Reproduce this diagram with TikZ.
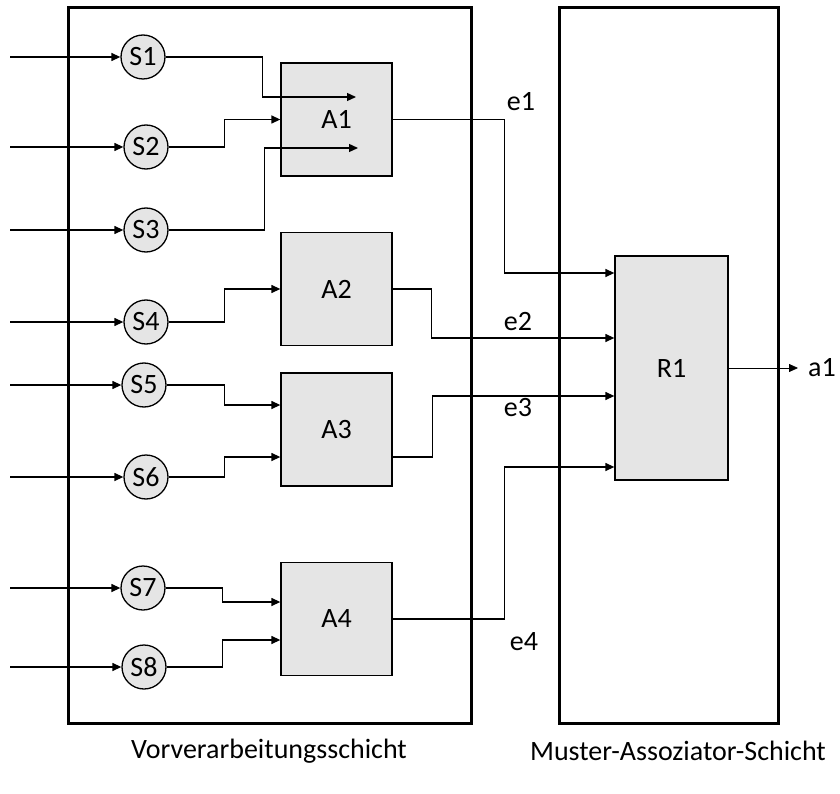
\documentclass[tikz,border=0pt]{standalone}
\usepackage{fontspec}
\setmainfont{Carlito}
\usetikzlibrary{arrows.meta}

\tikzset{
  sensor/.style={circle, draw, line width=1.3pt, fill=black!10, minimum size=44pt, inner sep=0pt},
  assoc/.style={rectangle, draw, line width=1.3pt, fill=black!10, minimum width=111pt, minimum height=113pt},
  layerbox/.style={line width=3pt},
  lbl/.style={font=\fontsize{28}{33}\selectfont}
}

\begin{document}
\begin{tikzpicture}[x=1pt, y=-1pt, >={Triangle[length=9pt,width=8pt]}, line width=1.3pt, lbl]
    \useasboundingbox (0,0) rectangle (840,794);

    \draw[layerbox] (68,8) rectangle (471,723);
    \draw[layerbox] (559,8) rectangle (778,723);

    \foreach \i/\x/\y in {1/143/57, 2/146/147, 3/146/230, 4/146/322, 5/144/385, 6/146/477, 7/143/588, 8/144/667} {
        \node[sensor] (S\i) at (\x,\y) {S\i};
        \coordinate (in\i) at (10,\y);
        \draw[->] (in\i) -- (S\i);
    }

    \node[assoc] (A1) at (336.5,119.5) {A1};
    \node[assoc] (A2) at (336.5,289) {A2};
    \node[assoc] (A3) at (336.5,429.5) {A3};
    \node[assoc] (A4) at (336.5,619) {A4};
    \node[assoc, minimum width=113pt, minimum height=224pt] (R1) at (671.5,368) {R1};

    \coordinate (A1a) at (356,97);
    \coordinate (A1b) at (358,148);
    \coordinate (A3a) at (A3.west |- 0,405);
    \coordinate (A3b) at (A3.west |- 0,457);
    \coordinate (A4a) at (A4.west |- 0,602);
    \coordinate (A4b) at (A4.west |- 0,640);
    \coordinate (R1a) at (R1.west |- 0,273);
    \coordinate (R1b) at (R1.west |- 0,338);
    \coordinate (R1c) at (R1.west |- 0,396);
    \coordinate (R1d) at (R1.west |- 0,467);
    \coordinate (out) at (798,368);

    \draw[->] (S1.east) -- ++(97,0) |- (A1a);
    \draw[->] (S2.east) -- ++(56,0) |- (A1.west);
    \draw[->] (S3.east) -- ++(96,0) |- (A1b);
    \draw[->] (S4.east) -- ++(56,0) |- (A2.west);
    \draw[->] (S5.east) -- ++(58,0) |- (A3a);
    \draw[->] (S6.east) -- ++(56,0) |- (A3b);
    \draw[->] (S7.east) -- ++(57,0) |- (A4a);
    \draw[->] (S8.east) -- ++(56,0) |- (A4b);

    \draw[->] (A1.east) -- ++(112,0) |- (R1a);
    \draw[->] (A2.east) -- ++(39,0) |- (R1b);
    \draw[->] ([yshift=-27.5pt]A3.east) -- ++(40,0) |- (R1c);
    \draw[->] (A4.east) -- ++(112,0) |- (R1d);
    \draw[->, line width=0.8pt] (R1.east) -- (out);

    \node (a1) at (822,368) {a1};
    \node (e1) at (521,102) {e1};
    \node (e2) at (518,322) {e2};
    \node (e3) at (518,408) {e3};
    \node (e4) at (524,642) {e4};

    \node (vor) at (269,751) {Vorverarbeitungsschicht};
    \node (mas) at (678,751) {Muster-Assoziator-Schicht};
\end{tikzpicture}
\end{document}
